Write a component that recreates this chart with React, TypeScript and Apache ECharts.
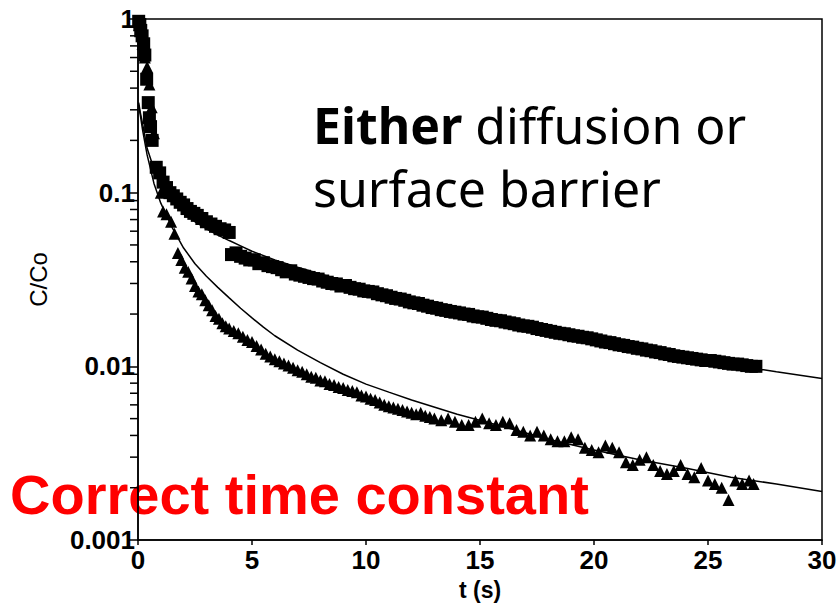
import React, { useEffect, useRef } from "react";
import * as echarts from "echarts";

// ---- data ----
const squareT = [0.03, 0.08, 0.12, 0.18, 0.25, 0.3, 0.38, 0.45, 0.5, 0.55, 0.62, 0.8, 0.95, 1.1, 1.25, 1.4, 1.55, 1.7, 1.85, 2.0,
  2.15, 2.3, 2.45, 2.6, 2.8, 3.0, 3.2, 3.4, 3.6, 3.8, 4.0,
  4.1, 4.3, 4.5, 4.7, 4.9, 5.1, 5.3, 5.5, 5.7, 5.9, 6.1, 6.3, 6.5, 6.7, 6.9, 7.1, 7.3, 7.5, 7.7, 7.9,
  8.1, 8.3, 8.5, 8.7, 8.9, 9.1, 9.3, 9.5, 9.7, 9.9, 10.1, 10.3, 10.5, 10.7, 10.9, 11.1, 11.3, 11.5, 11.7, 11.9,
  12.1, 12.3, 12.5, 12.7, 12.9, 13.1, 13.3, 13.5, 13.7, 13.9, 14.1, 14.3, 14.5, 14.7, 14.9, 15.1, 15.3, 15.5, 15.7, 15.9,
  16.1, 16.3, 16.5, 16.7, 16.9, 17.1, 17.3, 17.5, 17.7, 17.9, 18.1, 18.3, 18.5, 18.7, 18.9, 19.1, 19.3, 19.5, 19.7, 19.9,
  20.1, 20.3, 20.5, 20.7, 20.9, 21.1, 21.3, 21.5, 21.7, 21.9, 22.1, 22.3, 22.5, 22.7, 22.9, 23.1, 23.3, 23.5, 23.7, 23.9,
  24.1, 24.3, 24.5, 24.7, 24.9, 25.1, 25.3, 25.5, 25.7, 25.9, 26.1, 26.3, 26.5, 26.7, 26.9, 27.1];
const squareC = [0.97, 0.93, 0.86, 0.8, 0.72, 0.62, 0.45, 0.33, 0.27, 0.24, 0.2, 0.14, 0.13, 0.115, 0.107, 0.1, 0.096, 0.092, 0.088, 0.085,
  0.081, 0.078, 0.076, 0.074, 0.071, 0.068, 0.066, 0.064, 0.062, 0.061, 0.059,
  0.044, 0.045, 0.043, 0.042, 0.041, 0.041, 0.039, 0.0395, 0.038, 0.0375, 0.037, 0.036, 0.035, 0.0355, 0.034, 0.0335, 0.033, 0.0325, 0.032, 0.0318,
  0.031, 0.0305, 0.030, 0.0298, 0.029, 0.0292, 0.0285, 0.028, 0.0278, 0.0272, 0.027, 0.0268, 0.0262, 0.0258, 0.0255, 0.025, 0.0246, 0.0244, 0.024, 0.0235,
  0.0232, 0.023, 0.0225, 0.0222, 0.0218, 0.0216, 0.0212, 0.021, 0.0207, 0.0205, 0.0203, 0.0200, 0.0199, 0.0195, 0.0193, 0.0192, 0.0189, 0.0186, 0.0184, 0.0183,
  0.018, 0.0178, 0.0176, 0.0173, 0.0171, 0.0170, 0.0168, 0.0165, 0.0163, 0.0161, 0.0159, 0.0157, 0.0155, 0.0154, 0.0152, 0.015, 0.0149, 0.0147, 0.0146, 0.0144,
  0.0142, 0.0140, 0.0138, 0.0137, 0.0135, 0.0133, 0.0132, 0.0130, 0.0129, 0.0127, 0.0126, 0.0124, 0.0123, 0.0121, 0.012, 0.0118, 0.0117, 0.0115, 0.0114, 0.0113,
  0.0112, 0.0111, 0.011, 0.0109, 0.0108, 0.0108, 0.0107, 0.0106, 0.0105, 0.0104, 0.0103, 0.0103, 0.0102, 0.0101, 0.0100, 0.0100];

const triangleT = [0.05, 0.1, 0.2, 0.3, 0.4, 0.5, 0.6, 0.7, 0.85, 1.0, 1.1, 1.25, 1.45, 1.6, 1.75, 1.9, 2.05, 2.2, 2.35, 2.5,
  2.65, 2.8, 2.95, 3.1, 3.25, 3.4, 3.55, 3.7, 3.85, 4.0, 4.2, 4.4, 4.6, 4.8, 5.0, 5.2, 5.4, 5.6, 5.8, 6.0,
  6.2, 6.4, 6.6, 6.8, 7.0, 7.2, 7.4, 7.6, 7.8, 8.0, 8.2, 8.4, 8.6, 8.8, 9.0, 9.2, 9.4, 9.6, 9.8, 10.0,
  10.2, 10.4, 10.6, 10.8, 11.0, 11.2, 11.4, 11.6, 11.8, 12.0, 12.2, 12.4, 12.6, 12.8, 13.0, 13.3, 13.6, 13.9, 14.2, 14.5,
  14.8, 15.1, 15.4, 15.7, 16.0, 16.3, 16.6, 16.9, 17.2, 17.5, 17.8, 18.1, 18.4, 18.7, 19.0, 19.3, 19.6, 19.9, 20.2, 20.5,
  20.8, 21.1, 21.4, 21.7, 22.0, 22.3, 22.6, 22.9, 23.2, 23.5, 23.8, 24.1, 24.4, 24.7, 25.0, 25.3, 25.6, 25.9, 26.2, 26.5,
  26.8, 27.0];
const triangleC = [0.92, 0.85, 0.72, 0.6, 0.53, 0.42, 0.31, 0.22, 0.14, 0.1, 0.078, 0.075, 0.068, 0.058, 0.045, 0.041, 0.037, 0.035, 0.032, 0.029,
  0.027, 0.026, 0.024, 0.0225, 0.021, 0.0195, 0.0188, 0.0177, 0.017, 0.0165, 0.016, 0.0155, 0.0148, 0.0142, 0.0138, 0.0131, 0.0125, 0.0118, 0.0114, 0.011,
  0.0107, 0.0104, 0.0101, 0.0098, 0.0095, 0.0093, 0.009, 0.0087, 0.0086, 0.0083, 0.0082, 0.0079, 0.0078, 0.0076, 0.0075, 0.0073, 0.0072, 0.0071, 0.0068, 0.0067,
  0.0065, 0.0064, 0.0062, 0.006, 0.0059, 0.0058, 0.0057, 0.0056, 0.0055, 0.0054, 0.0053, 0.0054, 0.0052, 0.0051, 0.0050, 0.0049, 0.0050, 0.0048, 0.0046, 0.0046,
  0.0048, 0.0050, 0.0047, 0.0046, 0.0048, 0.0047, 0.0043, 0.0042, 0.0040, 0.0042, 0.0040, 0.0038, 0.0037, 0.0037, 0.0039, 0.0038, 0.0034, 0.0033, 0.0032, 0.0035,
  0.0034, 0.0032, 0.0028, 0.0027, 0.0029, 0.0030, 0.0027, 0.0025, 0.0024, 0.0025, 0.0027, 0.0024, 0.0023, 0.0026, 0.0022, 0.0021, 0.0020, 0.0017, 0.0022, 0.0021,
  0.0022, 0.0021];

const fitUpperT = [0.03, 0.1, 0.2, 0.4, 0.7, 1.0, 1.5, 2, 2.5, 3, 3.5, 4, 4.5, 5, 6, 7, 8, 9, 10, 12, 14, 16, 18, 20, 22, 24, 26, 28, 30];
const fitUpperC = [0.33, 0.29, 0.25, 0.18, 0.137, 0.112, 0.09, 0.077, 0.068, 0.062, 0.057, 0.053, 0.0494, 0.046, 0.041, 0.0372, 0.034, 0.0311, 0.0285, 0.0245, 0.0212, 0.0185, 0.0162, 0.0143, 0.0127, 0.0113, 0.0102, 0.0093, 0.0085];

const fitLowerT = [0.03, 0.1, 0.2, 0.4, 0.7, 1.0, 1.5, 2, 2.5, 3, 3.5, 4, 4.5, 5, 5.5, 6, 7, 8, 9, 10, 11, 12, 14, 16, 18, 20, 22, 24, 26, 28, 30];
const fitLowerC = [0.32, 0.28, 0.23, 0.165, 0.113, 0.087, 0.063, 0.048, 0.039, 0.033, 0.0285, 0.0248, 0.0216, 0.019, 0.0168, 0.015, 0.0124, 0.0105, 0.009, 0.0079, 0.0071, 0.0064, 0.0053, 0.0045, 0.0038, 0.0033, 0.0029, 0.0026, 0.0023, 0.0021, 0.0019];

const xTicks = [0, 5, 10, 15, 20, 25, 30];
const yTickLabels = ["0.001", "0.01", "0.1", "1"];
const minorMultipliers = [2, 3, 4, 5, 6, 7, 8, 9];
const decades = [0.001, 0.01, 0.1];

const zip = (a: number[], b: number[]) => a.map((v, i) => [v, b[i]]);

export default function App() {
  const ref = useRef<HTMLDivElement>(null);
  useEffect(() => {
    if (!ref.current) return;
    const chart = echarts.init(ref.current, undefined, { renderer: "svg" });
    const minorTicks: number[][] = [];
    decades.forEach((d) => minorMultipliers.forEach((m) => minorTicks.push([0, d * m])));
    const labelFont = { fontFamily: "Liberation Sans", fontWeight: "bold", fontSize: 26, color: "#000" };
    const option: any = {
      animation: false,
      backgroundColor: "#fff",
      grid: { left: 138, right: 18, top: 19, bottom: 61, show: true, borderColor: "#000", borderWidth: 1.5, backgroundColor: "transparent" },
      xAxis: {
        type: "value",
        min: xTicks[0],
        max: xTicks[xTicks.length - 1],
        interval: 5,
        name: "t (s)",
        nameLocation: "middle",
        nameGap: 38,
        nameTextStyle: { fontFamily: "Liberation Sans", fontWeight: "bold", fontSize: 23, color: "#000" },
        axisLine: { lineStyle: { color: "#000", width: 1.5 } },
        axisTick: { show: true, length: 5, inside: false, lineStyle: { color: "#000", width: 1.5 } },
        axisLabel: { ...labelFont, margin: 7 },
        splitLine: { show: false },
      },
      yAxis: {
        type: "log",
        logBase: 10,
        min: 0.001,
        max: 1,
        name: "C/Co",
        nameLocation: "middle",
        nameGap: 88,
        nameTextStyle: { fontFamily: "Liberation Sans", fontSize: 24, color: "#000" },
        axisLine: { lineStyle: { color: "#000", width: 1.5 } },
        axisTick: { show: true, length: 10, inside: false, lineStyle: { color: "#000", width: 1.5 } },
        axisLabel: {
          ...labelFont, margin: 3,
          formatter: (v: number) => yTickLabels[Math.round(Math.log10(v)) + 3] ?? "",
        },
        splitLine: { show: false },
      },
      series: [
        {
          type: "custom",
          silent: true,
          clip: false,
          data: minorTicks,
          renderItem: (params: any, api: any) => {
            const p = api.coord([api.value(0), api.value(1)]);
            return { type: "line", shape: { x1: p[0] - 8, y1: p[1], x2: p[0], y2: p[1] }, style: { stroke: "#000", lineWidth: 1.5 } };
          },
        },
        {
          type: "line", data: zip(fitUpperT, fitUpperC), showSymbol: false, smooth: false,
          lineStyle: { color: "#000", width: 1.5 }, z: 3,
        },
        {
          type: "line", data: zip(fitLowerT, fitLowerC), showSymbol: false, smooth: false,
          lineStyle: { color: "#000", width: 1.5 }, z: 3,
        },
        {
          type: "scatter", data: zip(squareT, squareC), symbol: "rect", symbolSize: 13,
          itemStyle: { color: "#000", opacity: 1 }, z: 4,
        },
        {
          type: "scatter", data: zip(triangleT, triangleC), symbol: "triangle", symbolSize: 12,
          itemStyle: { color: "#000", opacity: 1 }, z: 4,
        },
      ],
      graphic: [
        {
          type: "text", left: 313, top: 100, z: 10,
          style: {
            text: "{b|Either} diffusion or",
            font: "50px 'Noto Sans'",
            lineHeight: 50,
            fill: "#000",
            rich: { b: { fontFamily: "Noto Sans", fontWeight: "bold", fontSize: 50, lineHeight: 50, fill: "#000" } },
          },
        },
        {
          type: "text", left: 313, top: 163, z: 10,
          style: { text: "surface barrier", font: "50px 'Noto Sans'", lineHeight: 50, fill: "#000" },
        },
        {
          type: "text", left: 10, top: 466, z: -1,
          style: { text: "Correct time constant", font: "bold 56px 'Liberation Sans'", fill: "#ff0000" },
        },
      ],
    };
    chart.setOption(option);
    return () => chart.dispose();
  }, []);
  return <div ref={ref} style={{ position: "fixed", left: 0, top: 0, width: 840, height: 606, background: "#fff" }} />;
}
